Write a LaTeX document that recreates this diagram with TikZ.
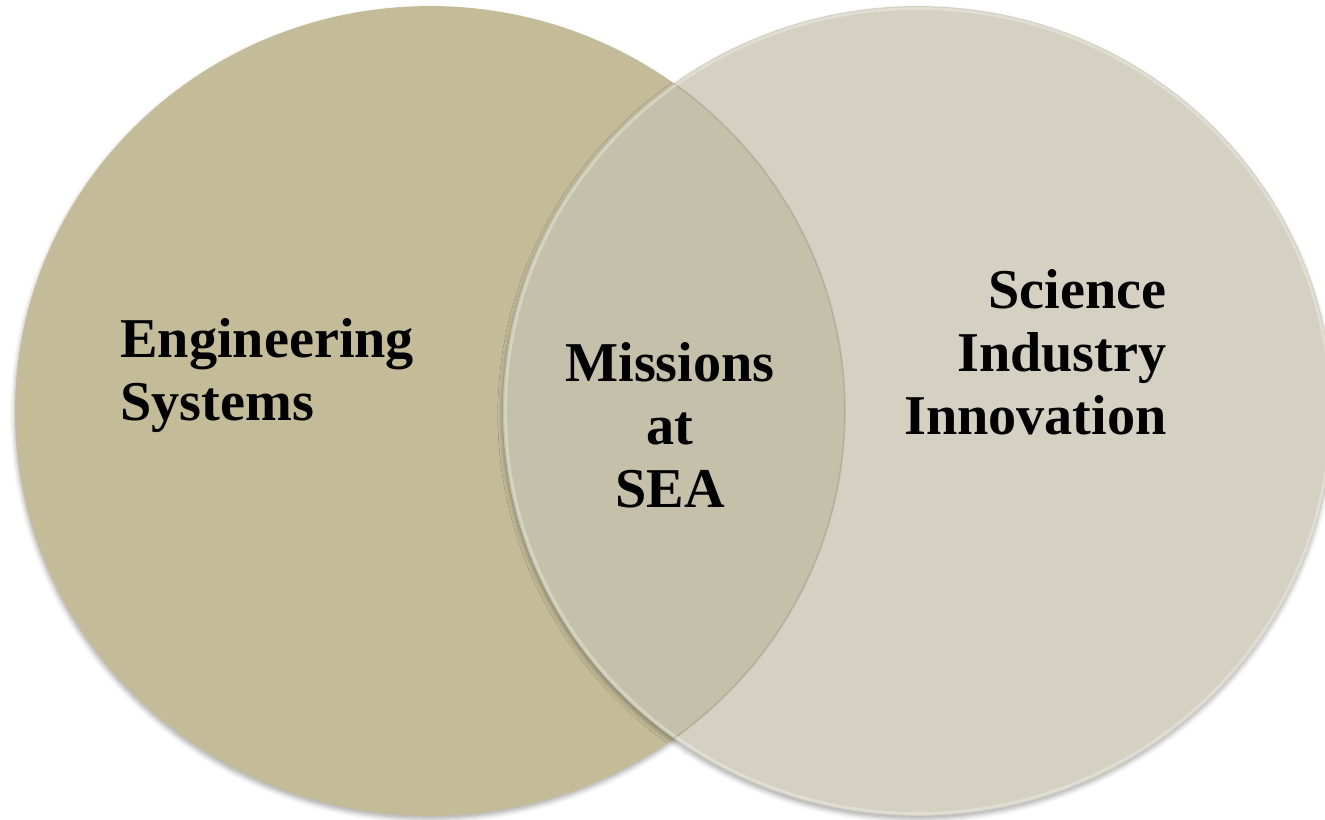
\documentclass[tikz,border=0pt]{standalone}
\usepackage{fontspec}
\setmainfont{Liberation Serif}
\usetikzlibrary{shadows.blur}

\definecolor{engfill}{RGB}{196,188,152}
\definecolor{scifill}{RGB}{212,209,194}
\definecolor{seafill}{RGB}{196,192,169}

\begin{document}
\begin{tikzpicture}[x=0.02cm,y=-0.02cm,
  lbl/.style={font=\fontsize{32}{36}\selectfont\bfseries,inner sep=0pt},
  setshadow/.style={blur shadow={shadow xshift=-0.5pt,shadow yshift=-2pt,
    shadow blur radius=2.5pt,shadow opacity=30}}]
\useasboundingbox (0,0) rectangle (1325,820);
\coordinate (L) at (430,411);
\coordinate (R) at (918,411);
% the two sets
\path[setshadow,fill=engfill] (L) ellipse [x radius=8.3cm,y radius=8.1cm];
\path[setshadow,fill=scifill] (R) ellipse [x radius=8.3cm,y radius=8.1cm];
% common part
\begin{scope}
  \clip (L) ellipse [x radius=8.3cm,y radius=8.1cm];
  \fill[seafill] (R) ellipse [x radius=8.3cm,y radius=8.1cm];
\end{scope}
\begin{scope}
  \clip (R) ellipse [x radius=8.3cm,y radius=8.1cm];
  \draw[black,opacity=0.1,line width=1pt] (L) ellipse [x radius=8.3cm,y radius=8.1cm];
\end{scope}
\draw[white,opacity=0.3,line width=1.5pt] (R) ellipse [x radius=8.25cm,y radius=8.05cm];
% labels
\node[lbl,anchor=north west,align=left] (eng) at (120,318) {Engineering\\Systems};
\node[lbl,anchor=north,align=center] (sea) at (670,342) {Missions\\at\\SEA};
\node[lbl,anchor=north east,align=right] (sci) at (1167,269) {Science\\Industry\\Innovation};
\end{tikzpicture}
\end{document}
